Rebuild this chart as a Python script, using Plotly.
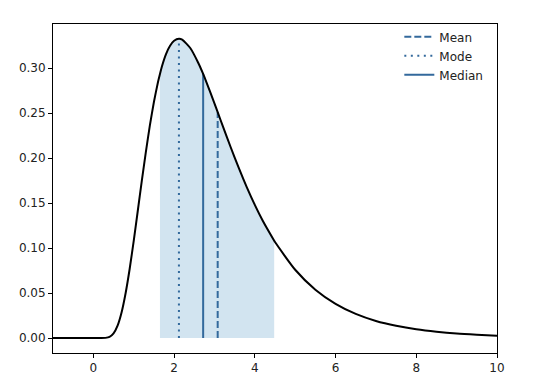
import plotly.graph_objects as go

# PDF curve
curve_x = [-1.0, 0.0, 0.2, 0.3, 0.4, 0.5, 0.6, 0.7, 0.8, 0.9, 1.0, 1.1, 1.2, 1.3, 1.4, 1.5, 1.6, 1.65,
           1.7, 1.8, 1.9, 2.0, 2.12, 2.2, 2.4, 2.6, 2.72, 2.8, 3.0, 3.08, 3.2, 3.4, 3.6, 3.8, 4.0, 4.2,
           4.48, 4.5, 5.0, 5.5, 6.0, 6.5, 7.0, 7.5, 8.0, 8.5, 9.0, 9.5, 10.0]
curve_y = [0.0, 0.0, 0.0, 0.0002, 0.0013, 0.0052, 0.0138, 0.0287, 0.0501, 0.0770, 0.1080, 0.1412,
           0.1746, 0.2067, 0.2363, 0.2623, 0.2843, 0.2935, 0.3021, 0.3156, 0.3249, 0.3304, 0.3326,
           0.3316, 0.3223, 0.3057, 0.2935, 0.2845, 0.2608, 0.2510, 0.2364, 0.2123, 0.1893, 0.1677,
           0.1480, 0.1301, 0.1082, 0.1067, 0.0759, 0.0537, 0.0380, 0.0268, 0.0190, 0.0136, 0.0097,
           0.0070, 0.0050, 0.0037, 0.0027]

# shaded interval
shade_lo = 1.65
shade_hi = 4.48

# statistics
stat_names = ["Mean", "Mode", "Median"]
stat_x = [3.08, 2.12, 2.72]
stat_top = [0.251, 0.3326, 0.2935]
stat_dash = ["7px,3px", "2px,4.5px", "solid"]

x_ticks = [0, 2, 4, 6, 8, 10]
y_ticks = [0.00, 0.05, 0.10, 0.15, 0.20, 0.25, 0.30]

line_col = "#33699c"

fill_x = [x for x in curve_x if shade_lo <= x <= shade_hi]
fill_y = [y for x, y in zip(curve_x, curve_y) if shade_lo <= x <= shade_hi]

fig = go.Figure()
fig.add_trace(go.Scatter(x=fill_x, y=fill_y, mode="lines", line=dict(width=0, shape="spline"),
                         fill="tozeroy", fillcolor="rgba(31,119,180,0.2)", showlegend=False,
                         hoverinfo="skip"))
for name, sx, st, dash in zip(stat_names, stat_x, stat_top, stat_dash):
    fig.add_trace(go.Scatter(x=[sx, sx], y=[0, st], mode="lines", name=name,
                             line=dict(color=line_col, width=2, dash=dash)))
fig.add_trace(go.Scatter(x=curve_x, y=curve_y, mode="lines", showlegend=False,
                         line=dict(color="black", width=2, shape="spline", smoothing=0.6)))

axis_common = dict(showline=True, linecolor="black", linewidth=1, mirror=True, ticks="outside",
                   ticklen=4, tickcolor="black", showgrid=False, zeroline=False,
                   tickfont=dict(family="DejaVu Sans", size=12, color="#222"))
fig.update_layout(
    width=540, height=382,
    margin=dict(l=45, r=51, t=16, b=37),
    plot_bgcolor="white", paper_bgcolor="white",
    xaxis=dict(range=[-1, 10], tickvals=x_ticks, ticktext=[str(t) for t in x_ticks], **axis_common),
    yaxis=dict(range=[-0.0166, 0.349], tickvals=y_ticks, ticktext=[f"{t:.2f}" for t in y_ticks],
               **axis_common),
    legend=dict(x=0.78, y=1.005, xanchor="left", yanchor="top", bgcolor="rgba(255,255,255,0)",
                font=dict(family="DejaVu Sans", size=12, color="#222"), tracegroupgap=0),
)
fig.write_html("out.html")
